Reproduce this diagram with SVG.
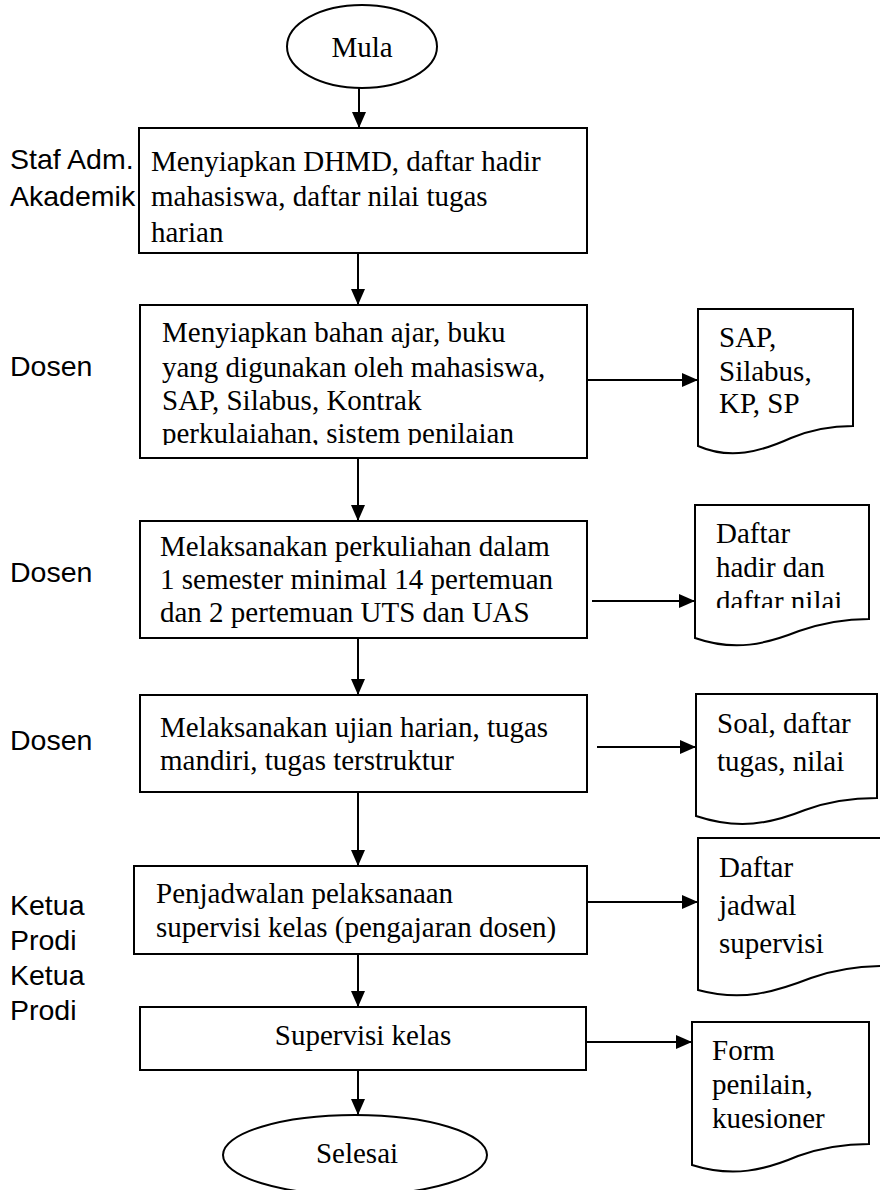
<svg xmlns="http://www.w3.org/2000/svg" width="880" height="1190" viewBox="0 0 880 1190">
<style>
.s{fill:#fff;stroke:#000;stroke-width:2}
.t{font-family:"Liberation Serif","Times New Roman",serif;font-size:29px;fill:#000}
.l{font-family:"Liberation Sans",Arial,sans-serif;font-size:28.5px;fill:#000}
.c{stroke:#000;stroke-width:2;fill:none}
</style>
<defs>
<marker id="ah" markerUnits="userSpaceOnUse" markerWidth="17" markerHeight="15" refX="16" refY="7" orient="auto">
<path d="M0,0 L16,7 L0,14 z" fill="#000"/>
</marker>
<clipPath id="cb2"><rect x="140" y="305" width="447" height="140"/></clipPath>
<clipPath id="cd2"><rect x="695" y="500" width="174" height="108"/></clipPath>
</defs>
<rect width="880" height="1190" fill="#fff"/>
<g id="labels">
<text class="l" x="10" y="169">Staf Adm.</text>
<text class="l" x="10" y="206">Akademik</text>
<text class="l" x="10" y="376">Dosen</text>
<text class="l" x="10" y="582">Dosen</text>
<text class="l" x="10" y="750">Dosen</text>
<text class="l" x="10" y="915">Ketua</text>
<text class="l" x="10" y="950">Prodi</text>
<text class="l" x="10" y="985">Ketua</text>
<text class="l" x="10" y="1020">Prodi</text>
</g>
<g id="connectors">
<line class="c" x1="359" y1="88" x2="359" y2="128" marker-end="url(#ah)"/>
<line class="c" x1="358" y1="253" x2="358" y2="305" marker-end="url(#ah)"/>
<line class="c" x1="358" y1="458" x2="358" y2="521" marker-end="url(#ah)"/>
<line class="c" x1="358" y1="638" x2="358" y2="695" marker-end="url(#ah)"/>
<line class="c" x1="358" y1="792" x2="358" y2="866" marker-end="url(#ah)"/>
<line class="c" x1="358" y1="954" x2="358" y2="1007" marker-end="url(#ah)"/>
<line class="c" x1="358" y1="1070" x2="358" y2="1115" marker-end="url(#ah)"/>
<line class="c" x1="587" y1="380" x2="698" y2="380" marker-end="url(#ah)"/>
<line class="c" x1="592" y1="601" x2="695" y2="601" marker-end="url(#ah)"/>
<line class="c" x1="597" y1="747" x2="696" y2="747" marker-end="url(#ah)"/>
<line class="c" x1="587" y1="902" x2="698" y2="902" marker-end="url(#ah)"/>
<line class="c" x1="583" y1="1042" x2="692" y2="1042" marker-end="url(#ah)"/>
</g>
<g id="mula">
<ellipse class="s" cx="362" cy="46.5" rx="75" ry="41.5"/>
<text class="t" x="362" y="57" text-anchor="middle">Mula</text>
</g>
<g id="box1">
<rect class="s" x="139" y="128" width="448" height="125"/>
<text class="t" x="151" y="171">Menyiapkan DHMD, daftar hadir</text>
<text class="t" x="151" y="206">mahasiswa, daftar nilai tugas</text>
<text class="t" x="151" y="242">harian</text>
</g>
<g id="box2">
<rect class="s" x="140" y="305" width="447" height="153"/>
<g clip-path="url(#cb2)">
<text class="t" x="162" y="342">Menyiapkan bahan ajar, buku</text>
<text class="t" x="162" y="377">yang digunakan oleh mahasiswa,</text>
<text class="t" x="162" y="410">SAP, Silabus, Kontrak</text>
<text class="t" x="162" y="443">perkulaiahan, sistem penilaian</text>
</g>
</g>
<g id="doc1">
<path class="s" d="M698,309 H853 V426 C835,426 815,428 791,438 C760,452 730,460 698,446 Z"/>
<text class="t" x="719" y="347">SAP,</text>
<text class="t" x="719" y="381">Silabus,</text>
<text class="t" x="719" y="413">KP, SP</text>
</g>
<g id="box3">
<rect class="s" x="140" y="521" width="447" height="117"/>
<text class="t" x="160" y="556">Melaksanakan perkuliahan dalam</text>
<text class="t" x="160" y="589">1 semester minimal 14 pertemuan</text>
<text class="t" x="160" y="622">dan 2 pertemuan UTS dan UAS</text>
</g>
<g id="doc2">
<path class="s" d="M695,505 H869 V619 C850,619 828,621 799,631 C766,644 735,652 695,638 Z"/>
<g clip-path="url(#cd2)">
<text class="t" x="716" y="543">Daftar</text>
<text class="t" x="716" y="577">hadir dan</text>
<text class="t" x="716" y="611">daftar nilai</text>
</g>
</g>
<g id="box4">
<rect class="s" x="140" y="695" width="447" height="97"/>
<text class="t" x="160" y="737">Melaksanakan ujian harian, tugas</text>
<text class="t" x="160" y="770">mandiri, tugas terstruktur</text>
</g>
<g id="doc3">
<path class="s" d="M696,694 H877 V798 C856,798 832,800 805,810 C770,824 738,830 696,816 Z"/>
<text class="t" x="717" y="733">Soal, daftar</text>
<text class="t" x="717" y="771">tugas, nilai</text>
</g>
<g id="box5">
<rect class="s" x="134" y="866" width="453" height="88"/>
<text class="t" x="156" y="903">Penjadwalan pelaksanaan</text>
<text class="t" x="156" y="937">supervisi kelas (pengajaran dosen)</text>
</g>
<g id="doc4">
<path class="s" d="M698,838 H886 V966 C864,966 839,968 811,978 C775,992 742,1002 698,990 Z"/>
<text class="t" x="719" y="877">Daftar</text>
<text class="t" x="719" y="915">jadwal</text>
<text class="t" x="719" y="953">supervisi</text>
</g>
<g id="box6">
<rect class="s" x="140" y="1007" width="446" height="63"/>
<text class="t" x="363" y="1045" text-anchor="middle">Supervisi kelas</text>
</g>
<g id="doc5">
<path class="s" d="M692,1022 H869 V1144 C850,1144 826,1146 798,1156 C765,1170 733,1178 692,1165 Z"/>
<text class="t" x="712" y="1060">Form</text>
<text class="t" x="712" y="1094">penilain,</text>
<text class="t" x="712" y="1128">kuesioner</text>
</g>
<g id="selesai">
<ellipse class="s" cx="355" cy="1155" rx="132" ry="40"/>
<text class="t" x="357" y="1163" text-anchor="middle">Selesai</text>
</g>
</svg>
